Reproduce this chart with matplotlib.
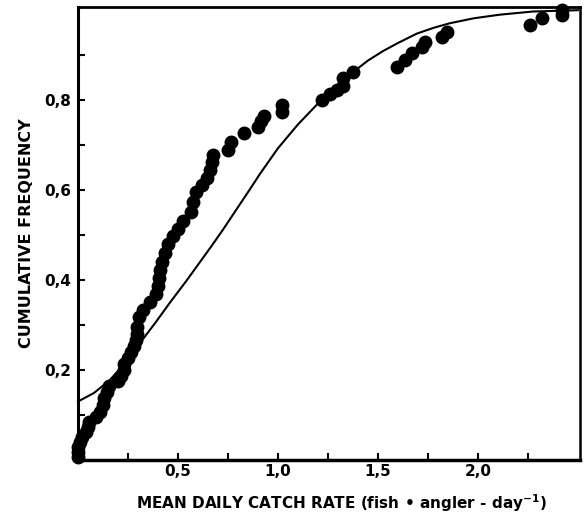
"""
Cumulative frequency of mean daily catch rate: observed values (dots)
with fitted cumulative curve (line).
"""

import matplotlib
matplotlib.use("Agg")
import matplotlib.pyplot as plt
from matplotlib.ticker import FixedLocator, FixedFormatter

# ── Data ─────────────────────────────────────────────────────────────────────

obs_rate = [0.0, 0.0, 0.0, 0.01, 0.02, 0.04, 0.05, 0.055, 0.09, 0.11,
            0.125, 0.13, 0.145, 0.155, 0.20, 0.215, 0.23, 0.23, 0.25, 0.265,
            0.28, 0.29, 0.295, 0.295, 0.305, 0.325, 0.36, 0.39, 0.40, 0.405,
            0.41, 0.42, 0.435, 0.45, 0.475, 0.50, 0.525, 0.565, 0.575, 0.59,
            0.62, 0.645, 0.66, 0.67, 0.675, 0.75, 0.765, 0.83, 0.90, 0.915,
            0.93, 1.02, 1.02, 1.22, 1.26, 1.295, 1.325, 1.325, 1.375, 1.595,
            1.635, 1.67, 1.72, 1.735, 1.82, 1.845, 2.26, 2.32, 2.42, 2.42]
obs_freq = [0.007, 0.018, 0.029, 0.04, 0.051, 0.062, 0.073, 0.084, 0.096, 0.107,
            0.122, 0.138, 0.151, 0.164, 0.176, 0.187, 0.20, 0.213, 0.227, 0.24,
            0.253, 0.267, 0.28, 0.296, 0.318, 0.333, 0.351, 0.369, 0.387, 0.404,
            0.422, 0.44, 0.46, 0.48, 0.498, 0.513, 0.531, 0.551, 0.573, 0.596,
            0.611, 0.627, 0.644, 0.662, 0.678, 0.689, 0.707, 0.727, 0.74, 0.753,
            0.764, 0.773, 0.789, 0.80, 0.813, 0.822, 0.831, 0.849, 0.862, 0.873,
            0.889, 0.904, 0.918, 0.929, 0.94, 0.951, 0.967, 0.982, 0.99, 1.0]

fit_rate = [0.0, 0.08, 0.16, 0.24, 0.31, 0.39, 0.46, 0.54, 0.61, 0.67,
            0.725, 0.8, 0.86, 0.91, 1.0, 1.1, 1.21, 1.3, 1.375, 1.45, 1.525,
            1.6, 1.695, 1.78, 1.86, 1.98, 2.11, 2.275, 2.5]
fit_freq = [0.13, 0.149, 0.178, 0.218, 0.26, 0.307, 0.35, 0.397, 0.44, 0.477,
            0.512, 0.562, 0.602, 0.636, 0.693, 0.746, 0.797, 0.834, 0.862, 0.888,
            0.909, 0.927, 0.948, 0.961, 0.971, 0.982, 0.99, 0.997, 1.0]

x_major = [0.5, 1.0, 1.5, 2.0]
x_major_labels = ["0,5", "1,0", "1,5", "2,0"]
x_minor = [0.25, 0.75, 1.25, 1.75, 2.25]
y_major = [0.2, 0.4, 0.6, 0.8]
y_major_labels = ["0,2", "0,4", "0,6", "0,8"]
y_minor = [0.1, 0.3, 0.5, 0.7, 0.9]

# ── Style ────────────────────────────────────────────────────────────────────

plt.rcParams["font.family"] = ["DejaVu Sans"]
plt.rcParams["font.weight"] = "bold"
plt.rcParams["mathtext.fontset"] = "custom"
plt.rcParams["mathtext.rm"] = "DejaVu Sans:bold"
plt.rcParams["mathtext.it"] = "DejaVu Sans:bold"
plt.rcParams["mathtext.bf"] = "DejaVu Sans:bold"


def main():
    fig = plt.figure(figsize=(5.85, 5.2), dpi=100)
    ax = fig.add_axes([0.1333, 0.1154, 0.858, 0.8711])

    ax.plot(fit_rate, fit_freq, color="black", lw=1.5, zorder=2, clip_on=False)
    ax.plot(obs_rate, obs_freq, "o", color="black", ms=9, mec="black",
            zorder=3, clip_on=False)

    ax.set_xlim(0, 2.51)
    ax.set_ylim(0, 1.007)

    ax.xaxis.set_major_locator(FixedLocator(x_major))
    ax.xaxis.set_major_formatter(FixedFormatter(x_major_labels))
    ax.xaxis.set_minor_locator(FixedLocator(x_minor))
    ax.yaxis.set_major_locator(FixedLocator(y_major))
    ax.yaxis.set_major_formatter(FixedFormatter(y_major_labels))
    ax.yaxis.set_minor_locator(FixedLocator(y_minor))

    ax.tick_params(which="both", direction="in", length=5, width=1.5,
                   labelsize=11, pad=5)
    ax.tick_params(axis="x", pad=3)

    ax.spines["left"].set_linewidth(2.2)
    ax.spines["bottom"].set_linewidth(2.5)
    ax.spines["top"].set_linewidth(2.0)
    ax.spines["right"].set_linewidth(1.8)

    ax.set_xlabel("MEAN DAILY CATCH RATE (fish \u2022 angler - day$^{-1}$)",
                  fontsize=11, fontweight="bold")
    ax.xaxis.set_label_coords(0.525, -0.072)
    ax.set_ylabel("CUMULATIVE FREQUENCY", fontsize=11.5, fontweight="bold",
                  labelpad=7)

    fig.savefig("out.png", dpi=100)
    plt.close(fig)


if __name__ == "__main__":
    main()
